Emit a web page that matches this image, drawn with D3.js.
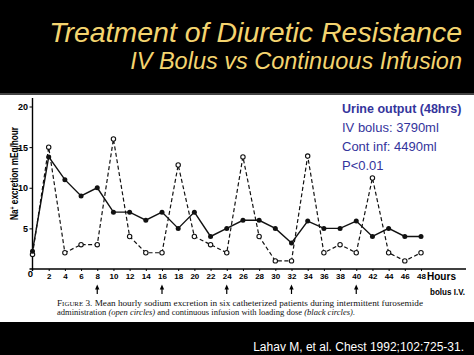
<!DOCTYPE html>
<html><head><meta charset="utf-8">
<script src="https://cdn.jsdelivr.net/npm/d3@7"></script>
<style>html,body{margin:0;padding:0;background:#000;}svg{display:block;}</style>
</head><body>
<svg id="c" width="474" height="355"></svg>
<script>
// ---- data ----
const hours = [0,2,4,6,8,10,12,14,16,18,20,22,24,26,28,30,32,34,36,38,40,42,44,46,48];
const continuousInfusion = [2.2,13.8,11,9,10,7,7,6,7,5,7,4,5,6,6,5,3.2,5.9,5,5,5.9,4,5,4,4];
const ivBolus = [1.8,15,2,3,3,16,4,2,2,12.8,4,3,2,13.8,4,1,1,13.9,2,3,2,11.2,2,1,2];
const xTicks = [2,4,6,8,10,12,14,16,18,20,22,24,26,28,30,32,34,36,38,40,42,44,46,48];
const yTicks = [5,10,15,20];
const bolusHours = [8,16,24,32,40];
const titleText = "Treatment of Diuretic Resistance";
const subtitleText = "IV Bolus vs Continuous Infusion";
const legendTitle = "Urine output (48hrs)";
const legendLines = ["IV bolus: 3790ml","Cont inf: 4490ml","P<0.01"];
const citation = "Lahav M, et al. Chest 1992;102:725-31.";

const svg = d3.select("#c");
const W = 474, H = 355;

// backgrounds
svg.append("rect").attr("x",0).attr("y",0).attr("width",W).attr("height",H).attr("fill","#000");
svg.append("rect").attr("x",0).attr("y",95).attr("width",W).attr("height",227).attr("fill","#fff");
svg.append("line").attr("x1",0).attr("x2",W).attr("y1",94).attr("y2",94).attr("stroke","#5a5a5a").attr("stroke-width",1.5);

// titles
svg.append("text").attr("x",462).attr("y",41.5).attr("text-anchor","end")
  .attr("font-family","Liberation Sans, Arial, sans-serif").attr("font-style","italic")
  .attr("font-size",28.5).attr("fill","#f4d46f").text(titleText);
svg.append("text").attr("x",462).attr("y",68.5).attr("text-anchor","end")
  .attr("font-family","Liberation Sans, Arial, sans-serif").attr("font-style","italic")
  .attr("font-size",23.5).attr("fill","#f4d46f").text(subtitleText);

// scales
const x = d3.scaleLinear().domain([0,48]).range([32.5,421]);
const y = d3.scaleLinear().domain([0,20]).range([269,106.5]);

const g = svg.append("g");
const fontAxis = "Liberation Sans, Arial, sans-serif";

// x axis
const xAxis = d3.axisBottom(x).tickValues(xTicks).tickSize(2).tickPadding(2).tickFormat(d3.format("d"));
const gx = g.append("g").attr("transform",`translate(0,${y(0)})`).call(xAxis);
gx.select(".domain").remove();
gx.selectAll(".tick line").attr("stroke","#000").attr("stroke-width",1);
gx.selectAll(".tick text").attr("font-family",fontAxis).attr("font-weight","bold")
  .attr("font-size",8).attr("fill","#000");
g.append("line").attr("x1",x(0)-3).attr("x2",466).attr("y1",y(0)).attr("y2",y(0))
  .attr("stroke","#000").attr("stroke-width",1.4);

// y axis
const yAxis = d3.axisLeft(y).tickValues(yTicks).tickSize(3).tickPadding(1.5).tickFormat(d3.format("d"));
const gy = g.append("g").attr("transform",`translate(${x(0)},0)`).call(yAxis);
gy.select(".domain").remove();
gy.selectAll(".tick line").attr("stroke","#000").attr("stroke-width",1);
gy.selectAll(".tick text").attr("font-family",fontAxis).attr("font-weight","bold")
  .attr("font-size",9).attr("fill","#000");
g.append("line").attr("x1",x(0)).attr("x2",x(0)).attr("y1",98).attr("y2",y(0)+2)
  .attr("stroke","#000").attr("stroke-width",1.4);
g.append("text").attr("x",x(0)-2).attr("y",y(0)+8).attr("text-anchor","middle")
  .attr("font-family",fontAxis).attr("font-weight","bold").attr("font-size",9.5).text("0");

// axis labels
const yl = g.append("text").attr("transform",`translate(17.5,173.5) rotate(-90)`)
  .attr("text-anchor","middle").attr("font-family",fontAxis).attr("font-weight","bold")
  .attr("font-size",11).attr("textLength",93).attr("lengthAdjust","spacingAndGlyphs");
yl.append("tspan").text("Na");
yl.append("tspan").attr("baseline-shift","super").attr("font-size",7).text("+");
yl.append("tspan").text(" excretion mEq/hour");

g.append("text").attr("x",427).attr("y",279.5).attr("font-family",fontAxis).attr("font-weight","bold")
  .attr("font-size",10).attr("textLength",29).attr("lengthAdjust","spacingAndGlyphs").text("Hours");
g.append("text").attr("x",430).attr("y",294.5).attr("font-family",fontAxis).attr("font-weight","bold")
  .attr("font-size",9.5).attr("textLength",35).attr("lengthAdjust","spacingAndGlyphs").text("bolus I.V.");

// bolus arrows
bolusHours.forEach(h => {
  const cx = x(h);
  g.append("line").attr("x1",cx).attr("x2",cx).attr("y1",288).attr("y2",294).attr("stroke","#000").attr("stroke-width",1.2);
  g.append("path").attr("d",`M${cx},284.5 L${cx-2.2},289.5 L${cx+2.2},289.5 Z`).attr("fill","#000");
});

// lines
const pts = (vals) => hours.map((h,i)=>[h,vals[i]]);
const line = d3.line().x(d=>x(d[0])).y(d=>y(d[1]));
g.append("path").datum(pts(ivBolus)).attr("d",line).attr("fill","none")
  .attr("stroke","#111").attr("stroke-width",1.2).attr("stroke-dasharray","4,2.5");
g.append("path").datum(pts(continuousInfusion)).attr("d",line).attr("fill","none")
  .attr("stroke","#111").attr("stroke-width",1.4);

// points
g.selectAll(".open").data(pts(ivBolus)).enter().append("circle")
  .attr("cx",d=>x(d[0])).attr("cy",d=>y(d[1])).attr("r",2.2)
  .attr("fill","#fff").attr("stroke","#111").attr("stroke-width",1.1);
g.selectAll(".filled").data(pts(continuousInfusion)).enter().append("circle")
  .attr("cx",d=>x(d[0])).attr("cy",d=>y(d[1])).attr("r",2.5).attr("fill","#111");

// legend / annotation
const legColor = "#34349c";
g.append("text").attr("x",342).attr("y",113).attr("font-family",fontAxis).attr("font-weight","bold")
  .attr("font-size",12.5).attr("fill",legColor).text(legendTitle);
legendLines.forEach((t,i)=>{
  g.append("text").attr("x",342).attr("y",131.7+i*19.2).attr("font-family",fontAxis)
    .attr("font-size",13).attr("fill",legColor).text(t);
});

// caption
const serif = "Liberation Serif, Times New Roman, serif";
const c1 = g.append("text").attr("x",57).attr("y",305.5).attr("font-family",serif).attr("font-size",8)
  .attr("textLength",366).attr("lengthAdjust","spacingAndGlyphs").attr("fill","#111");
c1.append("tspan").attr("font-variant","small-caps").text("Figure 3.");
c1.append("tspan").text(" Mean hourly sodium excretion in six catheterized patients during intermittent furosemide");
const c2 = g.append("text").attr("x",57).attr("y",314.5).attr("font-family",serif).attr("font-size",8)
  .attr("textLength",298).attr("lengthAdjust","spacingAndGlyphs").attr("fill","#111");
c2.append("tspan").text("administration ");
c2.append("tspan").attr("font-style","italic").text("(open circles)");
c2.append("tspan").text(" and continuous infusion with loading dose ");
c2.append("tspan").attr("font-style","italic").text("(black circles)");
c2.append("tspan").text(".");

// citation
svg.append("text").attr("x",464).attr("y",351).attr("text-anchor","end")
  .attr("font-family","Liberation Sans, Arial, sans-serif").attr("font-size",12)
  .attr("fill","#fff").text(citation);
</script>
</body></html>
